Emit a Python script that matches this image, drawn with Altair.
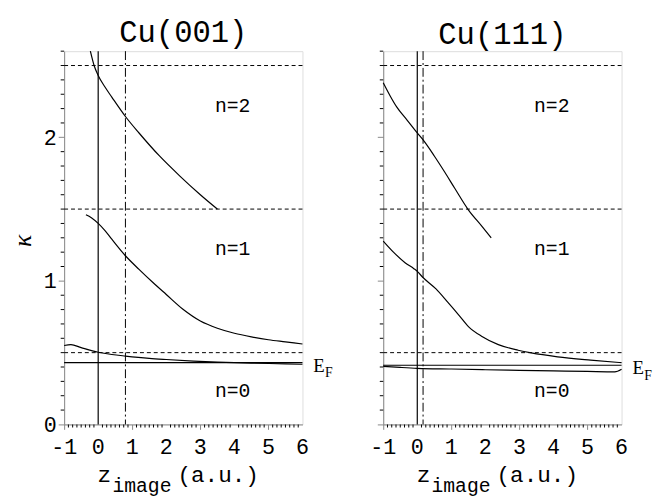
import altair as alt
import pandas as pd

# ---------------- data ----------------
# Cu(001) panel
l_n2_x = [-0.23, -0.12, 0.0, 0.2, 0.4, 0.8, 1.2, 1.8, 2.4, 3.0, 3.5]
l_n2_y = [2.60, 2.50, 2.43, 2.35, 2.28, 2.145, 2.03, 1.87, 1.73, 1.60, 1.50]
l_n1_x = [-0.36, -0.2, 0.0, 0.2, 0.4, 0.8, 1.2, 1.6, 2.0, 2.5, 3.0, 3.5, 4.0, 4.5, 5.0, 5.5, 6.0]
l_n1_y = [1.46, 1.44, 1.40, 1.35, 1.29, 1.175, 1.08, 0.99, 0.905, 0.80, 0.72, 0.67, 0.635, 0.61, 0.59, 0.575, 0.56]
l_n0_x = [-1.0, -0.8, -0.5, 0.0, 0.4, 0.8, 1.5, 2.0, 2.8, 3.5, 4.5, 5.5, 6.0]
l_n0_y = [0.55, 0.556, 0.535, 0.503, 0.487, 0.476, 0.46, 0.452, 0.441, 0.434, 0.427, 0.422, 0.419]
l_ef = 0.43
l_dashdot = 0.8

# Cu(111) panel
r_n2_x = [-1.0, -0.8, -0.6, -0.3, 0.0, 0.16, 0.5, 0.8, 1.1, 1.5, 1.9, 2.17]
r_n2_y = [2.38, 2.29, 2.21, 2.12, 2.03, 1.985, 1.87, 1.76, 1.645, 1.495, 1.38, 1.30]
r_n1_x = [-1.0, -0.7, -0.35, -0.1, 0.0, 0.16, 0.55, 0.9, 1.22, 1.51, 1.9, 2.38, 2.96, 3.35, 4.12, 5.09, 6.0]
r_n1_y = [1.277, 1.20, 1.125, 1.085, 1.066, 1.025, 0.944, 0.85, 0.762, 0.68, 0.613, 0.556, 0.517, 0.498, 0.471, 0.448, 0.43]
r_n0_x = [-1.0, -0.5, 0.0, 1.0, 2.0, 3.0, 4.0, 5.0, 5.8, 6.0]
r_n0_y = [0.404, 0.397, 0.391, 0.386, 0.381, 0.377, 0.373, 0.369, 0.366, 0.384]
r_ef = 0.412
r_dashdot = 0.17

levels = [0.5, 1.5, 2.5]
n_labels = ["n=2", "n=1", "n=0"]
n_label_x = [3.95, 3.95, 3.95]
n_label_y = [2.22, 1.22, 0.23]

titles = ["Cu(001)", "Cu(111)"]
y_title = "κ"
x_major = [-1, 0, 1, 2, 3, 4, 5, 6]
x_major_labels = ["-1", "0", "1", "2", "3", "4", "5", "6"]
y_major = [0, 1, 2]

# ---------------- styling ----------------
W, H = 242, 379
MONO = "Liberation Mono"
SERIF = "Liberation Serif"

xscale = alt.Scale(domain=[-1, 6], nice=False, zero=False)
yscale = alt.Scale(domain=[0, 2.6], nice=False, zero=False)
x_minor = [-1 + i * 0.125 for i in range(57) if i % 8 != 0]
y_minor = [round(i * 0.1, 2) for i in range(27) if i % 10 != 0]


def panel(title, curves, ef, dashdot, first):
    rows = []
    for ci, (xs, ys) in enumerate(curves):
        for i, (a, b) in enumerate(zip(xs, ys)):
            rows.append({"x": a, "y": b, "curve": ci, "i": i})
    df = pd.DataFrame(rows)

    xaxis = alt.Axis(values=x_major, labels=False, tickSize=5, title=None, grid=False)
    if first:
        yaxis = alt.Axis(
            values=y_major, format="d", labelOverlap=False, labelFlush=False,
            tickSize=6, labelPadding=2, labelFont=MONO, labelFontSize=22,
            title=None, grid=False,
        )
    else:
        yaxis = alt.Axis(values=y_major, labels=False, tickSize=6,
                         title=None, grid=False)

    lines = alt.Chart(df).mark_line(
        color="black", strokeWidth=1.2, interpolate="monotone"
    ).encode(
        x=alt.X("x:Q", scale=xscale, axis=xaxis),
        y=alt.Y("y:Q", scale=yscale, axis=yaxis),
        detail="curve:N",
        order="i:Q",
    )

    xlab = alt.Chart(pd.DataFrame({"x": x_major, "t": x_major_labels})).mark_text(
        font=MONO, fontSize=22, align="center", baseline="alphabetic", color="black"
    ).encode(x=alt.X("x:Q", scale=xscale), y=alt.value(H + 30), text="t:N")

    xt = alt.Chart(pd.DataFrame({"x": x_minor})).mark_tick(
        orient="vertical", size=3, thickness=1, color="black", opacity=1
    ).encode(x=alt.X("x:Q", scale=xscale), y=alt.value(H + 1.5))

    yt = alt.Chart(pd.DataFrame({"y": y_minor})).mark_tick(
        orient="horizontal", size=3.5, thickness=1, color="black", opacity=1
    ).encode(y=alt.Y("y:Q", scale=yscale), x=alt.value(-1.75))

    lev = alt.Chart(pd.DataFrame({"y": levels})).mark_rule(
        color="black", strokeWidth=1, strokeDash=[4, 3]
    ).encode(y=alt.Y("y:Q", scale=yscale))

    efl = alt.Chart(pd.DataFrame({"y": [ef]})).mark_rule(
        color="black", strokeWidth=1.2
    ).encode(y=alt.Y("y:Q", scale=yscale))

    v0 = alt.Chart(pd.DataFrame({"x": [0.0]})).mark_rule(
        color="black", strokeWidth=1.2
    ).encode(x=alt.X("x:Q", scale=xscale))

    vdd = alt.Chart(pd.DataFrame({"x": [dashdot]})).mark_rule(
        color="black", strokeWidth=1, strokeDash=[9, 3, 2, 3]
    ).encode(x=alt.X("x:Q", scale=xscale))

    nlab = alt.Chart(pd.DataFrame({"x": n_label_x, "y": n_label_y, "t": n_labels})).mark_text(
        font=MONO, fontSize=20, align="center", baseline="middle", color="black"
    ).encode(x=alt.X("x:Q", scale=xscale),
             y=alt.Y("y:Q", scale=yscale), text="t:N")

    efdf = pd.DataFrame({"y": [ef], "e": ["E"], "f": ["F"]})
    e_txt = alt.Chart(efdf).mark_text(
        font=SERIF, fontSize=19, align="left", baseline="middle", dx=11, dy=3, color="black"
    ).encode(x=alt.value(W), y=alt.Y("y:Q", scale=yscale), text="e:N")
    f_txt = alt.Chart(efdf).mark_text(
        font=SERIF, fontSize=14, align="left", baseline="middle", dx=23, dy=11, color="black"
    ).encode(x=alt.value(W), y=alt.Y("y:Q", scale=yscale), text="f:N")

    tdf = pd.DataFrame({"z": ["z"], "s": ["image"], "u": ["(a.u.)"], "k": [y_title]})
    z_txt = alt.Chart(tdf).mark_text(
        font=MONO, fontSize=23, align="left", baseline="alphabetic", color="black"
    ).encode(x=alt.value(34), y=alt.value(H + 58), text="z:N")
    s_txt = alt.Chart(tdf).mark_text(
        font=MONO, fontSize=20, align="left", baseline="alphabetic", color="black"
    ).encode(x=alt.value(49), y=alt.value(H + 69), text="s:N")
    u_txt = alt.Chart(tdf).mark_text(
        font=MONO, fontSize=23, align="left", baseline="alphabetic", color="black"
    ).encode(x=alt.value(115), y=alt.value(H + 58), text="u:N")

    layers = [lines, xt, yt, xlab, lev, efl, v0, vdd, nlab, e_txt, f_txt, z_txt, s_txt, u_txt]
    if first:
        k_txt = alt.Chart(tdf).mark_text(
            font=SERIF, fontStyle="italic", fontSize=26, align="center",
            baseline="middle", angle=270, color="black"
        ).encode(x=alt.value(-42), y=alt.value(H / 2 + 3), text="k:N")
        layers.append(k_txt)

    return alt.layer(*layers).properties(
        width=W, height=H,
        title=alt.TitleParams(title, font=MONO, fontSize=31, fontWeight="normal",
                              anchor="middle", offset=0, color="black"),
    )


left = panel(titles[0], [(l_n2_x, l_n2_y), (l_n1_x, l_n1_y), (l_n0_x, l_n0_y)],
             l_ef, l_dashdot, True)
right = panel(titles[1], [(r_n2_x, r_n2_y), (r_n1_x, r_n1_y), (r_n0_x, r_n0_y)],
              r_ef, r_dashdot, False)

chart = alt.hconcat(left, right, spacing=82, bounds="flush").properties(
    padding={"left": 1, "top": 5, "right": 5, "bottom": 5}
).configure_view(
    stroke="black", strokeWidth=1.4
).configure_axis(
    domainColor="black", tickColor="black", labelColor="black", titleColor="black",
    domainWidth=1, labelOverlap=False,
).configure(background="white")

chart.save("out.html", embed_options={"renderer": "svg", "actions": False})
